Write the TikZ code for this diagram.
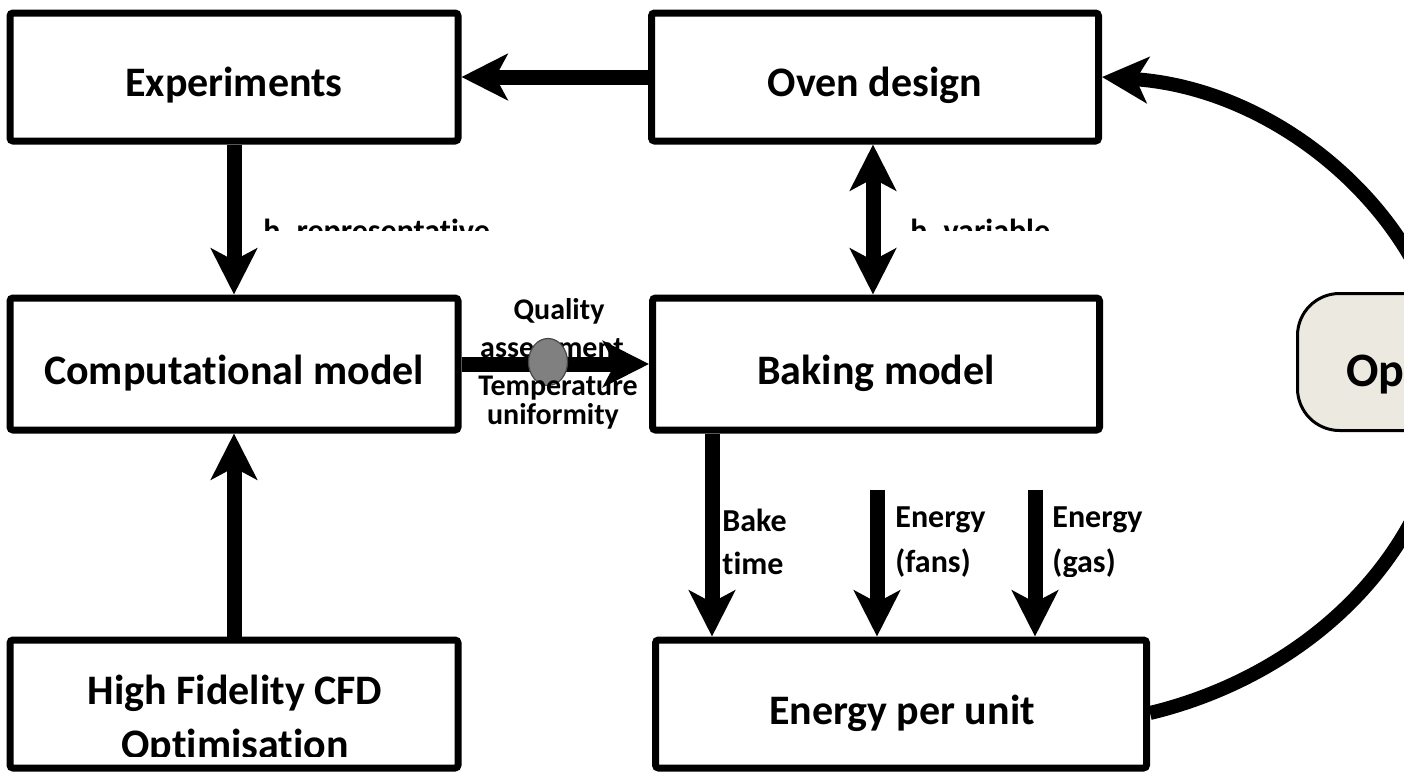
\documentclass[tikz,border=0pt]{standalone}
\usepackage{fontspec}
\setmainfont{Carlito}[Ligatures=CommonOff]
\usetikzlibrary{arrows.meta,shapes.geometric}
\definecolor{optfill}{RGB}{236,234,224}
\definecolor{dotfill}{RGB}{128,128,128}
\definecolor{dotline}{RGB}{70,70,70}
\begin{document}
\begin{tikzpicture}[x=0.5pt,y=-0.5pt,
  box/.style={draw, line width=3.5pt, rectangle, rounded corners=1.5pt, fill=white, inner sep=0pt},
  arr/.style={line width=7.5pt, -{Stealth[length=23pt,width=23pt,inset=6pt]}},
  darr/.style={line width=7.5pt, {Stealth[length=23pt,width=23pt,inset=6pt]}-{Stealth[length=23pt,width=23pt,inset=6pt]}},
  curvearr/.style={line width=7pt, -{Stealth[length=23pt,width=23pt,inset=6pt]}},
  lbl/.style={font=\fontsize{16}{19}\selectfont\bfseries, inner sep=0pt, anchor=west},
  hlbl/.style={font=\fontsize{16}{19}\selectfont\bfseries, inner sep=0pt, anchor=base west},
  qlbl/.style={font=\fontsize{15}{18}\selectfont\bfseries, inner sep=0pt},
  boxtxt/.style={font=\fontsize{21}{25}\selectfont\bfseries, inner sep=0pt},
  optbox/.style={draw, line width=1.5pt, fill=optfill, rounded corners=21pt, rectangle,
    minimum width=150pt, minimum height=68.5pt, inner sep=0pt}
]
\useasboundingbox (0,0) rectangle (1404,772);
\clip (0,0) rectangle (1404,772);
\fill[white] (0,0) rectangle (1404,772);

% boxes
\node[box, minimum width=224pt, minimum height=64pt] (exp) at (234,77) {};
\node[box, minimum width=223.5pt, minimum height=64pt] (oven) at (875,77) {};
\node[box, minimum width=224pt, minimum height=66pt] (comp) at (234,364) {};
\node[box, minimum width=223.5pt, minimum height=66pt] (bake) at (876,364) {};
\node[box, minimum width=224pt, minimum height=64pt] (hf) at (234,704) {};
\node[box, minimum width=245.5pt, minimum height=64pt] (energy) at (901,704) {};

% box texts
\node[boxtxt] (exptxt) at ([yshift=-4pt]exp.center) {Experiments};
\node[boxtxt] (oventxt) at ([yshift=-4pt]oven.center) {Oven design};
\node[boxtxt] (comptxt) at ([yshift=-4.5pt]comp.center) {Computational model};
\node[boxtxt] (baketxt) at ([yshift=-4.5pt]bake.center) {Baking model};
\node[boxtxt] (hftxt1) at (235,693) {High Fidelity CFD};
\begin{scope}
\clip (0,600) rectangle (470,756);
\node[boxtxt] (hftxt2) at (235,747) {Optimisation};
\end{scope}
\node[boxtxt] (entxt) at (902,713) {Energy per unit};

% curved feedback
\draw[curvearr] ([yshift=-4.5pt]energy.east) .. controls (1295,678) and (1425,570) .. (1448,410)
  .. controls (1462,250) and (1300,90) .. (oven.east);

% optimiser box (cut by the right edge)
\node[optbox, anchor=west] (opt) at (1296,362) {};
\node[boxtxt, font=\fontsize{24}{28}\selectfont\bfseries, anchor=west] (opttxt) at (1346,373) {Optimiser};

% arrows
\draw[arr] (oven.west) -- (exp.east);
\draw[arr] (exp.south) -- (comp.north);
\draw[arr] (hf.north) -- (comp.south);
\coordinate (ovx) at (873,0);
\draw[darr] (oven.south -| ovx) -- (bake.north -| ovx);
\draw[arr] (comp.east) -- (bake.west);
\coordinate (btx) at (712,0);
\draw[arr] (bake.south -| btx) -- (energy.north -| btx);
\coordinate (fanstart) at (877,490);
\draw[arr] (fanstart) -- (fanstart |- energy.north);
\coordinate (gasstart) at (1035,490);
\draw[arr] (gasstart) -- (gasstart |- energy.north);

% clipped h labels
\begin{scope}
\clip (240,200) rectangle (520,230);
\node[hlbl] (hrep) at (263,241) {h\_representative};
\end{scope}
\begin{scope}
\clip (890,200) rectangle (1080,230);
\node[hlbl] (hvar) at (910,241) {h\_variable};
\end{scope}

% link labels
\node[qlbl] (q1) at (559,311) {Quality};
\node[qlbl] (q2) at (552,348) {assessment};
\node[ellipse, draw=dotline, fill=dotfill, line width=0.6pt, minimum width=19.5pt, minimum height=23.5pt, inner sep=0pt] (dot) at (548,362) {};
\node[qlbl] (q3) at (558,388) {Temperature};
\node[qlbl] (q4) at (553,416) {uniformity};

\node[lbl] (bk1) at (722,520) {Bake};
\node[lbl] (bk2) at (722,563) {time};
\node[lbl] (ef1) at (895,520) {Energy};
\node[lbl] (ef2) at (895,563) {(fans)};
\begin{scope}
\clip (1040,480) rectangle (1200,576);
\node[lbl] (eg1) at (1052,520) {Energy};
\node[lbl] (eg2) at (1052,563) {(gas)};
\end{scope}
\end{tikzpicture}
\end{document}
